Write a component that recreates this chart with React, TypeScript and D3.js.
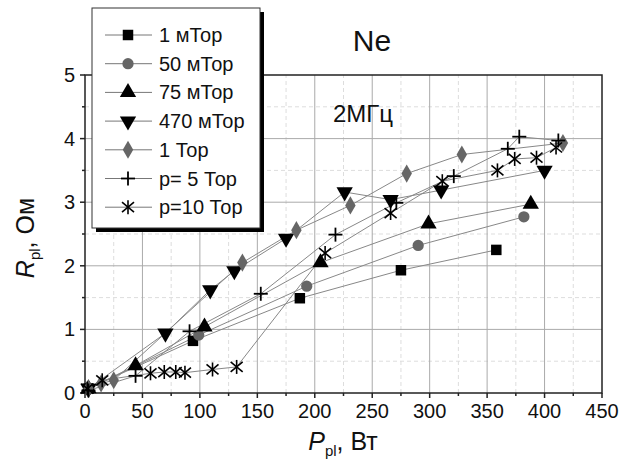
import React from "react";
import * as d3 from "d3";

// data: P_pl (Вт) vs R_pl (Ом)
const mTorr1 = [[3, 0.07], [94, 0.82], [187, 1.49], [275, 1.93], [358, 2.25]];
const mTorr50 = [[3, 0.06], [99, 0.91], [193, 1.68], [290, 2.32], [382, 2.77]];
const mTorr75 = [[3, 0.07], [44, 0.43], [104, 1.04], [205, 2.05], [299, 2.66], [388, 2.97]];
const mTorr470 = [[3, 0.07], [70, 0.94], [109, 1.62], [130, 1.92], [175, 2.43], [226, 3.16], [266, 3.04], [310, 3.19], [400, 3.5]];
const torr1 = [[3, 0.07], [14, 0.15], [25, 0.2], [137, 2.05], [184, 2.56], [231, 2.95], [280, 3.45], [328, 3.75], [416, 3.93]];
const torr5 = [[3, 0.04], [44, 0.27], [91, 0.97], [153, 1.56], [218, 2.49], [271, 2.99], [321, 3.41], [368, 3.84], [378, 4.03], [412, 3.97]];
const torr10 = [[2, 0.07], [15, 0.2], [57, 0.31], [69, 0.33], [79, 0.33], [87, 0.32], [111, 0.37], [132, 0.41], [209, 2.2], [266, 2.83], [311, 3.33], [359, 3.5], [374, 3.68], [393, 3.7], [410, 3.86]];

const seriesNames = ["1 мТор", "50 мТор", "75 мТор", "470 мТор", "1 Тор", "p= 5 Тор", "p=10 Тор"];
const seriesData = [mTorr1, mTorr50, mTorr75, mTorr470, torr1, torr5, torr10];
const seriesShapes = ["square", "circle", "triangle", "down", "diamond", "plus", "star"];
const seriesColors = ["#000", "#666", "#000", "#000", "#666", "#000", "#000"];

const xTicks = [0, 50, 100, 150, 200, 250, 300, 350, 400, 450];
const yTicks = [0, 1, 2, 3, 4, 5];

const W = 632, H = 475;
const x = d3.scaleLinear().domain([0, 450]).range([85, 602]);
const y = d3.scaleLinear().domain([0, 5]).range([393, 75]);
const font = "Arial, 'Liberation Sans', sans-serif";

const Marker = ({ shape, cx, cy, color }) => {
  const t = `translate(${cx},${cy})`;
  if (shape === "plus") {
    return (
      <g transform={t} stroke={color} strokeWidth={1.8}>
        <line x1={-7} x2={7} y1={0} y2={0} />
        <line x1={0} x2={0} y1={-7} y2={7} />
      </g>
    );
  }
  if (shape === "star") {
    return (
      <g transform={t} stroke={color} strokeWidth={1.6}>
        <line x1={0} x2={0} y1={-7} y2={7} />
        <line x1={-6} x2={6} y1={-5} y2={5} />
        <line x1={-6} x2={6} y1={5} y2={-5} />
      </g>
    );
  }
  const types = {
    square: [d3.symbolSquare, 110],
    circle: [d3.symbolCircle, 100],
    triangle: [d3.symbolTriangle, 115],
    down: [d3.symbolTriangle, 115],
    diamond: [d3.symbolDiamond, 95],
  };
  const [type, size] = types[shape];
  const path = d3.symbol().type(type).size(size)();
  const rot = shape === "down" ? " rotate(180)" : "";
  return <path d={path} transform={t + rot} fill={color} />;
};

export default function App() {
  const line = d3.line().x((d) => x(d[0])).y((d) => y(d[1]));
  const minorX = d3.range(25, 450, 50);
  const minorY = d3.range(0.5, 5, 1);

  return (
    <svg width={W} height={H} style={{ position: "absolute", left: 0, top: 0, background: "#fff" }} fontFamily={font}>
      {/* grid */}
      {minorX.map((v) => (
        <line key={"mx" + v} x1={x(v)} x2={x(v)} y1={y(0)} y2={y(5)} stroke="#ddd" strokeDasharray="4,3" />
      ))}
      {minorY.map((v) => (
        <line key={"my" + v} x1={x(0)} x2={x(450)} y1={y(v)} y2={y(v)} stroke="#ddd" strokeDasharray="4,3" />
      ))}
      {xTicks.slice(1, -1).map((v) => (
        <line key={"gx" + v} x1={x(v)} x2={x(v)} y1={y(0)} y2={y(5)} stroke="#aaa" />
      ))}
      {yTicks.slice(1, -1).map((v) => (
        <line key={"gy" + v} x1={x(0)} x2={x(450)} y1={y(v)} y2={y(v)} stroke="#aaa" />
      ))}

      {/* frame */}
      <rect x={x(0)} y={y(5)} width={x(450) - x(0)} height={y(0) - y(5)} fill="none" stroke="#222" strokeWidth={1.5} />

      {/* ticks */}
      {xTicks.map((v) => (
        <g key={"tx" + v}>
          <line x1={x(v)} x2={x(v)} y1={y(0)} y2={y(0) + 5} stroke="#222" strokeWidth={1.5} />
          <text x={x(v)} y={y(0) + 25} textAnchor="middle" fontSize={20} fill="#111">{v}</text>
        </g>
      ))}
      {minorX.map((v) => (
        <line key={"tmx" + v} x1={x(v)} x2={x(v)} y1={y(0)} y2={y(0) + 3} stroke="#222" strokeWidth={1.5} />
      ))}
      {yTicks.map((v) => (
        <g key={"ty" + v}>
          <line x1={x(0) - 5} x2={x(0)} y1={y(v)} y2={y(v)} stroke="#222" strokeWidth={1.5} />
          <text x={x(0) - 10} y={y(v) + 7} textAnchor="end" fontSize={20} fill="#111">{v}</text>
        </g>
      ))}
      {minorY.map((v) => (
        <line key={"tmy" + v} x1={x(0) - 3} x2={x(0)} y1={y(v)} y2={y(v)} stroke="#222" strokeWidth={1.5} />
      ))}

      {/* series */}
      {seriesData.map((d, i) => (
        <path key={"l" + i} d={line(d)} fill="none" stroke="#888" strokeWidth={1} />
      ))}
      {seriesData.map((d, i) =>
        d.map((p, j) => (
          <Marker key={"m" + i + "-" + j} shape={seriesShapes[i]} cx={x(p[0])} cy={y(p[1])} color={seriesColors[i]} />
        ))
      )}

      {/* titles */}
      <text x={372} y={51} textAnchor="middle" fontSize={30} fill="#111">Ne</text>
      <text x={333} y={122} fontSize={24} fill="#111">2МГц</text>
      <text x={343} y={450} textAnchor="middle" fontSize={25} fill="#111">
        <tspan fontStyle="italic">P</tspan>
        <tspan fontSize={15} dy={6}>pl</tspan>
        <tspan dy={-6}>, Вт</tspan>
      </text>
      <text transform="translate(34,238) rotate(-90)" textAnchor="middle" fontSize={25} fill="#111">
        <tspan fontStyle="italic">R</tspan>
        <tspan fontSize={15} dy={6}>pl</tspan>
        <tspan dy={-6}>, Ом</tspan>
      </text>

      {/* legend */}
      <rect x={96} y={12} width={168} height={220} fill="#000" />
      <rect x={92} y={8} width={168} height={220} fill="#fff" stroke="#333" strokeWidth={1} />
      {seriesNames.map((name, i) => {
        const ly = 35 + i * 28.7;
        return (
          <g key={"lg" + i}>
            <line x1={105} x2={152} y1={ly} y2={ly} stroke="#777" />
            <Marker shape={seriesShapes[i]} cx={128} cy={ly} color={seriesColors[i]} />
            <text x={159} y={ly + 7} fontSize={20} fill="#111">{name}</text>
          </g>
        );
      })}
    </svg>
  );
}
